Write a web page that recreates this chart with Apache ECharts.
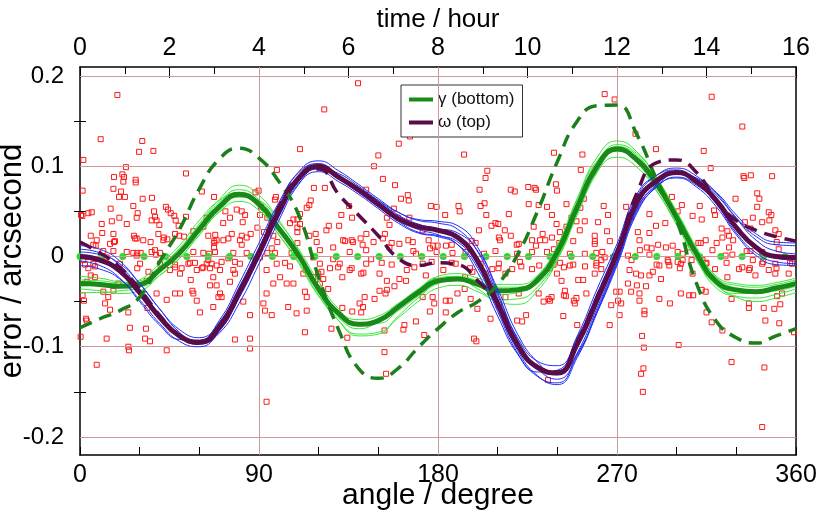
<!DOCTYPE html>
<html>
<head>
<meta charset="utf-8">
<script src="https://cdn.jsdelivr.net/npm/echarts@6/dist/echarts.min.js"></script>
<style>html,body{margin:0;padding:0;background:#fff}#c{width:820px;height:515px}</style>
</head>
<body>
<div id="c"></div>
<script>
// ---------- data ----------
const angles = [0,10,20,30,40,50,60,70,80,90,100,110,120,130,140,150,160,170,180,190,200,210,220,230,240,250,260,270,280,290,300,310,320,330,340,350,360];

const gammaFit = [-0.030,-0.031,-0.033,-0.031,-0.015,0.004,0.030,0.055,0.069,0.058,0.031,0.001,-0.036,-0.063,-0.075,-0.071,-0.056,-0.040,-0.027,-0.025,-0.031,-0.038,-0.037,-0.026,0.005,0.055,0.100,0.119,0.107,0.080,0.043,0.003,-0.028,-0.037,-0.039,-0.035,-0.030];
const omegaFit = [0.000,-0.004,-0.016,-0.040,-0.067,-0.088,-0.095,-0.078,-0.040,0.004,0.050,0.087,0.100,0.088,0.074,0.058,0.042,0.033,0.029,0.021,-0.005,-0.052,-0.098,-0.123,-0.129,-0.097,-0.048,0.003,0.060,0.084,0.093,0.083,0.062,0.032,0.010,0.000,-0.001];
const gammaModel = [-0.079,-0.069,-0.060,-0.045,-0.006,0.030,0.075,0.108,0.120,0.109,0.083,0.046,-0.023,-0.081,-0.124,-0.135,-0.124,-0.101,-0.080,-0.062,-0.050,-0.031,0.002,0.050,0.105,0.150,0.167,0.168,0.135,0.085,0.040,-0.030,-0.072,-0.090,-0.096,-0.088,-0.080];
const omegaModel = [0.016,0.004,-0.012,-0.036,-0.065,-0.088,-0.096,-0.080,-0.042,0.005,0.055,0.088,0.097,0.069,0.046,0.023,-0.002,-0.010,-0.007,-0.009,-0.027,-0.052,-0.097,-0.122,-0.128,-0.094,-0.045,0.004,0.070,0.104,0.107,0.093,0.062,0.040,0.029,0.022,0.017];

const gammaRuns = [
 [-0.026,-0.027,-0.029,-0.027,-0.011,0.009,0.036,0.063,0.079,0.068,0.040,0.006,-0.033,-0.062,-0.074,-0.070,-0.053,-0.036,-0.022,-0.019,-0.024,-0.031,-0.031,-0.021,0.012,0.064,0.110,0.128,0.116,0.086,0.047,0.006,-0.024,-0.032,-0.034,-0.031,-0.026],
 [-0.036,-0.038,-0.041,-0.038,-0.021,-0.002,0.024,0.049,0.061,0.051,0.024,-0.006,-0.043,-0.071,-0.086,-0.084,-0.068,-0.050,-0.035,-0.032,-0.039,-0.048,-0.047,-0.034,-0.002,0.049,0.094,0.110,0.099,0.072,0.036,-0.004,-0.035,-0.044,-0.046,-0.042,-0.036],
 [-0.028,-0.029,-0.032,-0.033,-0.021,-0.002,0.024,0.050,0.066,0.062,0.038,0.008,-0.028,-0.058,-0.074,-0.074,-0.060,-0.044,-0.029,-0.024,-0.028,-0.036,-0.038,-0.030,-0.003,0.046,0.093,0.117,0.110,0.085,0.050,0.010,-0.023,-0.036,-0.040,-0.038,-0.033],
 [-0.033,-0.032,-0.032,-0.026,-0.008,0.012,0.040,0.062,0.071,0.054,0.024,-0.008,-0.044,-0.068,-0.080,-0.072,-0.054,-0.037,-0.025,-0.025,-0.033,-0.042,-0.040,-0.022,0.012,0.064,0.106,0.121,0.104,0.073,0.035,-0.004,-0.032,-0.041,-0.041,-0.036,-0.031],
 [-0.022,-0.024,-0.028,-0.029,-0.014,0.006,0.034,0.060,0.074,0.063,0.034,0.002,-0.040,-0.071,-0.088,-0.086,-0.066,-0.046,-0.030,-0.026,-0.036,-0.050,-0.053,-0.038,-0.004,0.050,0.098,0.122,0.112,0.083,0.045,0.002,-0.031,-0.045,-0.050,-0.046,-0.040],
 [-0.040,-0.040,-0.038,-0.034,-0.017,0.003,0.030,0.054,0.066,0.056,0.030,0.000,-0.034,-0.060,-0.070,-0.066,-0.052,-0.037,-0.024,-0.022,-0.027,-0.034,-0.034,-0.024,0.006,0.056,0.102,0.124,0.114,0.087,0.049,0.008,-0.022,-0.030,-0.032,-0.029,-0.024]
];
const omegaRuns = [
 [0.012,0.008,-0.005,-0.030,-0.058,-0.081,-0.090,-0.073,-0.034,0.010,0.057,0.094,0.106,0.095,0.080,0.064,0.049,0.040,0.037,0.030,0.005,-0.043,-0.090,-0.116,-0.121,-0.090,-0.041,0.010,0.066,0.090,0.098,0.089,0.070,0.043,0.022,0.013,0.012],
 [-0.010,-0.014,-0.025,-0.048,-0.074,-0.094,-0.100,-0.083,-0.046,-0.002,0.044,0.081,0.094,0.083,0.069,0.053,0.037,0.026,0.022,0.013,-0.013,-0.061,-0.107,-0.133,-0.140,-0.107,-0.057,-0.005,0.053,0.078,0.087,0.077,0.055,0.024,0.001,-0.009,-0.010],
 [0.005,0.002,-0.008,-0.030,-0.058,-0.084,-0.097,-0.085,-0.052,-0.008,0.040,0.080,0.098,0.092,0.078,0.062,0.046,0.036,0.031,0.026,0.006,-0.036,-0.086,-0.117,-0.131,-0.108,-0.062,-0.010,0.048,0.078,0.091,0.086,0.068,0.042,0.018,0.006,0.003],
 [-0.005,-0.010,-0.024,-0.050,-0.076,-0.092,-0.093,-0.071,-0.030,0.015,0.060,0.093,0.103,0.087,0.071,0.055,0.040,0.030,0.024,0.013,-0.018,-0.066,-0.108,-0.128,-0.126,-0.088,-0.036,0.014,0.069,0.090,0.096,0.082,0.058,0.026,0.004,-0.006,-0.008],
 [0.008,0.004,-0.010,-0.036,-0.064,-0.087,-0.096,-0.080,-0.042,0.003,0.049,0.085,0.098,0.088,0.076,0.062,0.049,0.041,0.039,0.034,0.010,-0.040,-0.092,-0.124,-0.136,-0.110,-0.060,-0.006,0.052,0.080,0.092,0.087,0.071,0.046,0.025,0.016,0.015],
 [-0.002,-0.006,-0.017,-0.040,-0.066,-0.088,-0.097,-0.082,-0.045,0.000,0.046,0.083,0.097,0.089,0.073,0.056,0.039,0.027,0.023,0.016,-0.010,-0.058,-0.104,-0.132,-0.142,-0.112,-0.062,-0.008,0.050,0.077,0.088,0.079,0.059,0.030,0.008,-0.002,-0.004]
];

const sampleAngles = [0,10.7,21.5,32.2,43,53.7,64.4,75.2,85.9,96.7,107.4,118.1,128.9,139.6,150.4,161.1,171.8,182.6,193.3,204.1,214.8,225.5,236.3,247,257.8,268.5,279.2,290,300.7,311.5,322.2,332.9,343.7,354.4];
const sampleValues = [0,0,0,0,0,0,0,0,0,0,0,0,0,0,0,0,0,0,0,0,0,0,0,0,0,0,0,0,0,0,0,0,0,0];

const measurements = [
[18.8,0.179],[10.4,0.130],[31.3,0.128],[29.7,0.116],[36.9,0.117],[1.7,0.107],[23.1,0.099],[17.1,0.088],[21.3,0.091],[22.1,0.088],[21.8,0.083],[16.8,0.075],[20.6,0.072],[22.6,0.066],[19.6,0.066],[28.0,0.085],[28.0,0.082],[1.3,0.073],[31.5,0.064],[36.2,0.065],[26.8,0.056],[15.4,0.053],[5.9,0.049],[4.2,0.048],[0.5,0.046],[1.2,0.045],[19.8,0.043],[28.5,0.043],[29,0.048],[37.2,0.050],[43.2,0.055],[44.2,0.052],[45.6,0.048],[37.7,0.044],[38.5,0.040],[36,0.040],[39.9,0.035],[47.4,0.045],[48.1,0.040],[53.3,0.044],[53.3,0.092],[10.9,0.036],[16,0.039],[23.5,0.036],[11.2,0.026],[5.4,0.023],[16.8,0.025],[15.1,0.014],[17.1,0.016],[27.1,0.023],[28.5,0.020],[31.8,0.018],[35.5,0.016],[39.4,0.025],[42.2,0.021],[43.9,0.019],[49.6,0.034],[52.3,0.022],[47.8,0.025],[49.9,0.023],[6.7,0.013],[7.9,0.012],[11.7,0.006],[16.8,0.006],[23.5,0.005],[28.8,0.004],[30.5,0.004],[36,0.005],[38.2,0.002],[40.2,0.004],[67.4,0.066],[61.3,0.072],[63.7,0.043],[73.1,0.050],[75.4,0.043],[78.8,0.052],[81.3,0.050],[83,0.046],[81.8,0.038],[88.2,0.071],[89.8,0.073],[91,0.055],[90.5,0.046],[94.2,0.043],[107.3,0.041],[109.3,0.041],[109.3,0.032],[110.6,0.036],[116,0.062],[110.6,0.047],[98.5,0.066],[98,0.063],[110.6,0.119],[99,0.096],[117.6,0.076],[115.3,0.057],[114,0.054],[57,0.028],[62,0.033],[64.5,0.023],[68,0.024],[68.7,0.018],[67.5,0.015],[67.4,0.010],[72,0.037],[74.6,0.020],[76.3,0.025],[81.3,0.023],[80.4,0.018],[83.8,0.021],[85.8,0.025],[89.2,0.032],[92.5,0.027],[97.2,0.023],[99.2,0.016],[105.6,0.037],[109.3,0.027],[109.3,0.015],[115.3,0.023],[118.5,0.025],[119,0.016],[57,0.005],[62,0.004],[65,0.003],[67.9,0.005],[77.1,0.004],[83.8,0.004],[94.2,0.004],[98,0.004],[106.4,0.004],
[1.7,-0.004],[6.7,-0.008],[5.4,-0.021],[7.5,-0.023],[3.4,-0.028],[1.3,-0.043],[2,-0.049],[3,-0.069],[3.4,-0.071],[0.3,-0.089],[8.4,-0.120],[13.4,-0.091],[11.7,-0.039],[14.2,-0.045],[12.6,-0.052],[15.1,-0.059],[16.8,-0.038],[19.3,-0.030],[24.3,-0.062],[25.1,-0.079],[24.3,-0.100],[24.6,-0.104],[33.2,-0.080],[32.7,-0.091],[35.2,-0.094],[33.9,-0.057],[38.5,-0.041],[43.6,-0.048],[43.6,-0.104],[28.8,-0.013],[30.2,-0.008],[34.4,-0.017],[40.2,-0.008],[45.2,-0.015],[47.8,-0.012],[50.3,-0.019],[47.8,-0.041],[50.3,-0.041],[54.5,-0.008],[55.7,-0.026],[56.5,-0.038],[57,-0.041],[58.7,-0.049],[60.3,-0.062],[63.7,-0.008],[66.2,-0.008],[68.7,-0.010],[70.4,-0.015],[65.4,-0.032],[68.7,-0.032],[69.6,-0.045],[71.2,-0.045],[70.4,-0.041],[67,-0.056],[75.4,-0.028],[77.9,-0.019],[82.1,-0.050],[85.5,-0.065],[77.9,-0.092],[85.5,-0.091],[85.5,-0.102],[33.5,-0.027],[20.1,-0.008],[28.5,0.001],[13.4,-0.001],[93.8,-0.161],[92.2,-0.052],[93,-0.060],[96.4,-0.065],[93.8,-0.041],[97.2,-0.030],[100.6,-0.023],[103.9,-0.030],[107.3,-0.030],[104.7,-0.056],[108.9,-0.063],[114,-0.060],[113.1,-0.084],[113.1,-0.039],[114,-0.045],[117.3,-0.023],[93.8,-0.015],[98.9,-0.008],[90.5,-0.001],[80.4,-0.008],[77.1,-0.015],[67,-0.023],[58.7,-0.015],[62,-0.012],
[139.8,0.192],[122.8,0.163],[160.3,0.125],[165.9,0.133],[174.4,0.136],[150,0.112],[147.8,0.100],[193.1,0.113],[204.8,0.095],[203.9,0.087],[200.9,0.074],[152.3,0.086],[158.4,0.079],[143.9,0.074],[123.1,0.076],[161.4,0.064],[164.8,0.068],[165.3,0.062],[176.4,0.056],[179.3,0.055],[183.6,0.046],[190.3,0.056],[190.9,0.050],[201.4,0.056],[203.4,0.059],[204.3,0.046],[208.9,0.037],[210.3,0.036],[206.9,0.034],[216.6,0.074],[218.6,0.072],[225.4,0.077],[228.6,0.076],[229.3,0.074],[225.6,0.058],[230.6,0.057],[239.3,0.080],[239.8,0.073],[215.6,0.047],[213.6,0.029],[216.6,0.023],[220.6,0.014],[229.3,0.012],[232.6,0.025],[233.9,0.018],[237.3,0.021],[228.1,0.033],[227.3,0.018],[123.9,0.029],[125.1,0.034],[130.3,0.034],[131.4,0.046],[136.8,0.043],[135.3,0.056],[132.3,0.018],[137.3,0.016],[141.1,0.020],[144,0.025],[147.6,0.016],[152.3,0.020],[153.3,0.025],[155.6,0.035],[157.8,0.053],[154.3,0.043],[159.8,0.043],[165.6,0.043],[172.3,0.029],[175.3,0.018],[177.6,0.012],[179.8,0.012],[184,0.012],[179.3,0.005],[187.3,0.004],[193.9,0.005],[198.9,0.015],[200.6,0.029],[210.6,0.021],[203.1,0.003],[208.9,0.006],[219.8,0.003],[227.3,0.005],[234.8,0.005],[168.9,0.003],[167.3,0.016],[160.6,0.014],[155.6,0.010],[143.9,0.007],[135.6,0.005],[127.3,0.010],[120.6,0.007],[234.8,0.055],
[113.6,-0.015],[117.3,-0.001],[120.6,-0.008],[121.4,-0.017],[124.8,-0.036],[126.4,-0.080],[131.9,-0.057],[134.4,-0.090],[136.9,-0.061],[140.6,-0.052],[141.4,-0.062],[142.3,-0.056],[143.1,-0.045],[148.1,-0.047],[150.6,-0.038],[154.3,-0.037],[153.6,-0.041],[153.1,-0.082],[153.1,-0.106],[153.9,-0.130],[163.1,-0.076],[162.6,-0.081],[168.9,-0.072],[173.1,-0.087],[175.9,-0.061],[172.3,-0.045],[178.1,-0.052],[183.9,-0.062],[185.9,-0.049],[189.8,-0.041],[193.4,-0.036],[196.4,-0.047],[199.8,-0.058],[206.4,-0.069],[198.1,-0.091],[199.3,-0.094],[210.6,-0.054],[213.9,-0.045],[219.8,-0.071],[222.3,-0.072],[224.3,-0.065],[230.6,-0.041],[233.1,-0.050],[235.6,-0.047],[235.3,-0.137],[112.3,-0.019],[119.8,-0.019],[120.6,-0.030],[122.3,-0.025],[129.8,-0.012],[130.6,-0.008],[131.9,-0.023],[135.6,-0.015],[141.4,-0.019],[143.9,-0.008],[146.4,-0.003],[150.6,-0.019],[154.3,-0.027],[158.1,-0.033],[160.6,-0.025],[163.9,-0.027],[168.1,-0.012],[172.3,-0.008],[173.9,-0.021],[177.3,-0.045],[178.9,-0.027],[183.9,-0.049],[188.9,-0.008],[193.6,-0.023],[197.3,-0.017],[201.4,-0.008],[203.9,-0.019],[207.3,-0.014],[210.6,-0.008],[213.9,-0.019],[217.3,-0.014],[220.6,-0.041],[221.9,-0.011],[227.3,-0.014],[230.9,-0.010],[238.1,-0.009],[239.8,-0.019],[127.3,-0.003],
[263.8,0.180],[268.8,0.174],[317.6,0.177],[333,0.144],[279.3,0.136],[289.6,0.119],[313.6,0.117],[317.1,0.098],[333.6,0.089],[334,0.087],[337.3,0.090],[348,0.089],[238.3,0.115],[252.6,0.113],[251.8,0.096],[244.6,0.058],[253.3,0.064],[251.6,0.054],[247.1,0.043],[239.6,0.036],[244.6,0.033],[241.3,0.027],[241,0.015],[249.6,0.039],[253.8,0.039],[251.3,0.029],[258.8,0.023],[260.5,0.038],[263.3,0.056],[265.5,0.046],[265,0.028],[258.8,0.014],[262.6,0.005],[274.6,0.055],[277.1,0.043],[280.5,0.027],[281.3,0.018],[286.3,0.047],[286.3,0.026],[289.6,0.034],[294.3,0.037],[297.6,0.066],[300.5,0.050],[302.6,0.057],[308,0.045],[311.6,0.056],[312.6,0.041],[318.8,0.051],[319.3,0.046],[322.6,0.031],[325.5,0.028],[326.3,0.023],[329.6,0.064],[340.5,0.070],[341.6,0.064],[340.5,0.055],[346.3,0.049],[347.6,0.046],[346.6,0.040],[343,0.038],[338.3,0.043],[334.3,0.038],[337.1,0.031],[351.3,0.025],[349.6,0.029],[350.3,0.016],[312.1,0.015],[314.6,0.018],[323,0.021],[311.6,-0.001],[318,0.007],[324.6,0.001],[328,0.002],[326.3,0.010],[337.1,0.006],[343,0.005],[351.3,0.008],[294.6,0.010],[298,0.012],[300.5,0.005],[303,0.003],[306.3,0.010],[285,0.010],[286.3,0.002],[275.5,0.001],[246.3,0.003],[253.8,0.003],[259.6,0.004],[238.3,0.008],[237.3,0.046],
[236.3,-0.049],[237.1,-0.045],[243,-0.066],[243.8,-0.038],[243.3,-0.043],[244.3,-0.044],[248.3,-0.049],[248.8,-0.052],[249.6,-0.046],[250,-0.076],[254.6,-0.041],[266.3,-0.076],[267.1,-0.054],[269.6,-0.039],[271.3,-0.039],[270.5,-0.049],[272.1,-0.052],[271.3,-0.065],[277.1,-0.039],[281.3,-0.041],[281.3,-0.049],[283.8,-0.060],[283.8,-0.064],[282.6,-0.088],[283.5,-0.101],[283.3,-0.124],[282.1,-0.130],[283,-0.150],[280,-0.032],[284.6,-0.033],[291.3,-0.047],[292.1,-0.025],[296.6,-0.052],[302.1,-0.041],[301,-0.098],[306.3,-0.043],[308.3,-0.043],[312.6,-0.037],[314.6,-0.039],[315,-0.062],[317.6,-0.073],[323,-0.082],[327.6,-0.117],[336.3,-0.057],[336.3,-0.052],[343.8,-0.057],[344.6,-0.071],[349.1,-0.058],[351.6,-0.074],[350.5,-0.044],[352.1,-0.053],[344.1,-0.123],[343,-0.189],[359,-0.084],[242.1,-0.027],[243.3,-0.012],[246.3,-0.010],[250.5,-0.026],[253,-0.026],[258.8,-0.019],[259.6,-0.010],[262.1,-0.014],[262.1,-0.004],[263.8,-0.001],[268,-0.001],[275.5,-0.030],[276.3,-0.015],[279.6,-0.019],[282.1,-0.021],[286.3,-0.021],[288,-0.017],[291.3,-0.010],[295.5,-0.004],[296.3,-0.010],[300.5,-0.006],[302.1,-0.008],[303,-0.004],[308,-0.019],[313,-0.004],[314.6,-0.008],[319.3,-0.014],[325.5,-0.023],[327.6,-0.047],[331.3,-0.014],[333,-0.012],[336.3,-0.015],[338.3,-0.004],[339.6,-0.021],[343,-0.008],[346.3,-0.015],[349.6,-0.019],[349.6,-0.008],[356.3,-0.019],[358,-0.008],[353,-0.041],
[8.4,0.018],[17.6,0.017],[27.7,0.020],[41.9,0.018],[67.5,0.017],[72.1,0.018],[81.3,0.013],[96.4,0.009],[26.8,0.004],[37.7,0.007],[55.3,-0.007],[57.8,-0.007],[64.5,-0.004],[71.2,-0.006],[74.6,-0.002],[77.9,-0.006],[47.8,-0.009],[51.1,-0.013],[61.3,-0.013],[65.4,-0.013],[103.1,-0.007],[105.6,-0.011],[2.5,-0.009],[4.2,-0.013],[7.5,-0.011],
[133.3,0.017],[136.6,0.018],[142.1,0.013],[156.7,0.015],[165.1,0.018],[176,0.009],[186.9,0.013],[197,0.017],[211.2,0.018],[219.6,0.013],[231.3,0.018],[125.7,-0.013],[136.6,-0.013],[142.5,-0.018],[151.7,-0.007],[156.7,-0.009],[164.3,-0.015],[167.6,0.006],[176.8,-0.006],[182.7,-0.015],[186.9,-0.007],[196.1,-0.013],[210.4,-0.013],[221.2,-0.006],[236.3,-0.013],[241.4,-0.007],
[248,0.017],[258.9,0.017],[266.4,0.017],[281.5,0.007],[287.4,0.009],[290.7,0.013],[310.9,0.015],[320.1,0.015],[328.4,0.018],[335.2,0.006],[248,-0.009],[253.9,-0.011],[259.7,-0.007],[277.3,-0.004],[289.9,-0.009],[295.8,-0.006],[301.6,-0.013],[307.5,-0.004],[315,-0.007],[325.1,-0.007],[336.8,-0.013],[343.5,-0.006],[350.2,-0.013],[357,-0.007]
];

const yMajorTicks = [-0.2,-0.1,0,0.1,0.2];
const yMinorTicks = [-0.15,-0.05,0.05,0.15];
const hGridValues = [-0.2,-0.1,0,0.1,0.2];
const vGridValues = [90,180,270];

// ---------- chart ----------
const FONT = "'Liberation Sans',Arial,sans-serif";
const chart = echarts.init(document.getElementById('c'), null, {renderer:'canvas'});
const pair = (xs, ys) => xs.map((x, i) => [x, ys[i]]);

const series = [];
series.push({
  type:'line', data:[], z:1, silent:true,
  markLine:{
    silent:true, symbol:['none','none'], label:{show:false}, animation:false,
    lineStyle:{color:'#cc9a9a', width:1, type:'solid'},
    data: hGridValues.map(v => ({yAxis:v})).concat(vGridValues.map(v => ({xAxis:v})))
  }
});
series.push({
  type:'scatter', name:'meas', z:2, symbol:'rect', symbolSize:5,
  itemStyle:{color:'rgba(0,0,0,0)', borderColor:'#ff1a1a', borderWidth:1, opacity:1},
  data: measurements
});
series.push({
  type:'scatter', name:'samples', z:3, symbol:'circle', symbolSize:7,
  itemStyle:{color:'#2fd82f', opacity:1},
  data: pair(sampleAngles, sampleValues)
});
gammaRuns.forEach((r, i) => series.push({
  type:'line', name:'g'+i, z:4, smooth:true, showSymbol:false,
  lineStyle:{color:'#38e838', width:1}, data: pair(angles, r)
}));
series.push({type:'line', name:'γ (bottom)', z:5, smooth:true, showSymbol:false,
  itemStyle:{color:'#198a19'}, lineStyle:{color:'#198a19', width:5}, data: pair(angles, gammaFit)});
omegaRuns.forEach((r, i) => series.push({
  type:'line', name:'w'+i, z:6, smooth:true, showSymbol:false,
  lineStyle:{color:'#1f2ef5', width:1}, data: pair(angles, r)
}));
series.push({type:'line', name:'ω (top)', z:7, smooth:true, showSymbol:false,
  itemStyle:{color:'#5a0c48'}, lineStyle:{color:'#5a0c48', width:5}, data: pair(angles, omegaFit)});
series.push({type:'line', name:'gm', z:8, smooth:true, showSymbol:false,
  lineStyle:{color:'#1b801b', width:3.5, type:[13,8]}, data: pair(angles, gammaModel)});
series.push({type:'line', name:'wm', z:8, smooth:true, showSymbol:false,
  lineStyle:{color:'#5a0c48', width:3.5, type:[13,8]}, data: pair(angles, omegaModel)});

const axisLbl = {color:'#000', fontFamily:FONT, fontSize:24};
const nameTs = {color:'#000', fontFamily:FONT, fontSize:28};

chart.setOption({
  animation:false,
  backgroundColor:'#fff',
  grid:{left:80, right:24, top:67, bottom:60, containLabel:false, outerBoundsMode:'none'},
  legend:{
    data:['γ (bottom)','ω (top)'], orient:'vertical', left:401, top:85,
    icon:'rect', itemWidth:24, itemHeight:4, itemGap:6,
    backgroundColor:'#fff', borderColor:'#333', borderWidth:1, borderRadius:0,
    padding:[6,8,6,8],
    textStyle:{fontFamily:FONT, fontSize:17, color:'#111'}
  },
  xAxis:[
    {type:'value', position:'bottom', min:0, max:360, interval:90,
     axisLine:{onZero:false, lineStyle:{color:'#000', width:1.5}},
     axisTick:{inside:true, length:8, lineStyle:{color:'#000'}},
     minorTick:{show:true, splitNumber:3, length:8, lineStyle:{color:'#000'}},
     splitLine:{show:false},
     axisLabel:Object.assign({margin:8}, axisLbl, {fontSize:25}),
     name:'angle / degree', nameLocation:'middle', nameGap:26, nameMoveOverlap:false,
     nameTextStyle:Object.assign({}, nameTs, {fontSize:30, verticalAlign:'top'})},
    {type:'value', position:'top', min:0, max:16, interval:2,
     axisLine:{onZero:false, lineStyle:{color:'#000', width:1.5}},
     axisTick:{inside:true, length:11, lineStyle:{color:'#000'}},
     minorTick:{show:true, splitNumber:2, length:7, lineStyle:{color:'#000'}},
     splitLine:{show:false},
     axisLabel:Object.assign({margin:6}, axisLbl, {fontSize:25}),
     name:'time / hour', nameLocation:'middle', nameGap:34, nameMoveOverlap:false,
     nameTextStyle:Object.assign({}, nameTs, {fontSize:26, verticalAlign:'bottom'})}
  ],
  yAxis:[
    {type:'value', position:'left', min:-0.22, max:0.21,
     axisLine:{onZero:false, lineStyle:{color:'#000', width:1.5}},
     axisTick:{inside:true, length:10, customValues:yMajorTicks, lineStyle:{color:'#000'}},
     splitLine:{show:false},
     axisLabel:Object.assign({margin:16, customValues:yMajorTicks,
       formatter:v => String(Math.round(v*10)/10)}, axisLbl),
     name:'error / arcsecond', nameLocation:'middle', nameRotate:90, nameGap:52, nameMoveOverlap:false,
     nameTextStyle:Object.assign({}, nameTs, {fontSize:31, verticalAlign:'bottom'})},
    {type:'value', position:'left', min:-0.22, max:0.21,
     axisLine:{show:false}, splitLine:{show:false}, axisLabel:{show:false},
     axisTick:{inside:true, length:6, customValues:yMinorTicks, lineStyle:{color:'#000'}}},
    {type:'value', position:'right', min:-0.22, max:0.21,
     axisLine:{onZero:false, lineStyle:{color:'#000', width:1.5}}, splitLine:{show:false}, axisLabel:{show:false},
     axisTick:{inside:true, length:10, customValues:yMajorTicks, lineStyle:{color:'#000'}}},
    {type:'value', position:'right', min:-0.22, max:0.21,
     axisLine:{show:false}, splitLine:{show:false}, axisLabel:{show:false},
     axisTick:{inside:true, length:6, customValues:yMinorTicks, lineStyle:{color:'#000'}}}
  ],
  series: series
});
</script>
</body>
</html>
